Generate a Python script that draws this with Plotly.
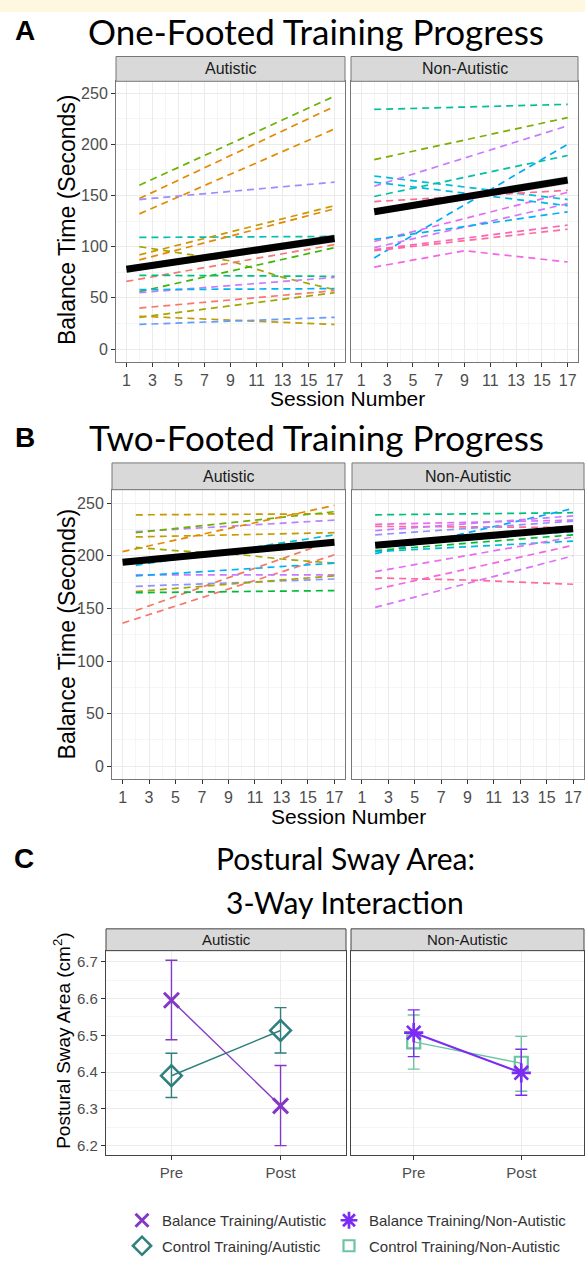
import plotly.graph_objects as go

W, H = 585, 1262


def px(x):
    return x / W


def py(y):
    return 1 - y / H


# ---------------- DATA ----------------
SESSION_TICKS = [1, 3, 5, 7, 9, 11, 13, 15, 17]
BAL_TICKS = [0, 50, 100, 150, 200, 250]
SWAY_TICKS = [6.2, 6.3, 6.4, 6.5, 6.6, 6.7]
TIME_LABELS = ["Pre", "Post"]
TIME_POS = [1, 2]
GROUPS = ["Autistic", "Non-Autistic"]

# Panel A: one-footed, autistic participants (session, balance time)
A_AUT_SESS = [[2, 17], [2, 17], [2, 17], [2, 17], [2, 17], [2, 9, 13, 17], [2, 17], [2, 17],
              [1, 17], [2, 17], [2, 17], [2, 17], [2, 17], [2, 17], [2, 17], [2, 17], [2, 17]]
A_AUT_VALS = [[160, 247], [147, 237], [132, 215], [146, 163], [109, 110], [100, 86, 70, 58],
              [92, 140], [87, 137], [66, 102], [56, 99], [72, 71], [55, 70], [58, 59],
              [40, 57], [31, 55], [32, 24], [24, 31]]
A_AUT_MEAN_SESS = [1, 17]
A_AUT_MEAN = [78, 108]
A_AUT_SE = [3, 4]

# Panel A: one-footed, non-autistic participants
A_NON_SESS = [[2, 17], [2, 17], [2, 17], [2, 17], [2, 17], [2, 17], [2, 17], [2, 17],
              [2, 17], [2, 17], [2, 17], [2, 17], [2, 9, 17], [2, 17]]
A_NON_VALS = [[234, 239], [185, 226], [169, 146], [159, 218], [89, 200], [149, 189],
              [144, 155], [105, 153], [99, 142], [107, 134], [97, 121], [96, 117],
              [80, 96, 85], [163, 140]]
A_NON_MEAN_SESS = [2, 17]
A_NON_MEAN = [134, 165]
A_NON_SE = [3, 4]

# Panel B: two-footed, autistic participants
B_AUT_SESS = [[2, 17], [2, 17], [2, 17], [2, 17], [1, 17], [2, 5, 10, 13, 17], [2, 17],
              [1, 17], [2, 17], [2, 17], [2, 17], [2, 17], [2, 17], [2, 17]]
B_AUT_VALS = [[239, 240], [223, 234], [222, 242], [218, 222], [204, 248],
              [208, 205, 201, 197, 193], [191, 220], [136, 201], [148, 215], [182, 182],
              [181, 193], [171, 178], [166, 181], [165, 167]]
B_AUT_MEAN_SESS = [1, 17]
B_AUT_MEAN = [194, 213]
B_AUT_SE = [3, 3]

# Panel B: two-footed, non-autistic participants
B_NON_SESS = [[2, 17], [2, 17], [2, 17], [2, 17], [2, 17], [2, 17], [2, 17], [2, 17],
              [2, 17], [2, 17], [2, 17], [2, 17], [2, 9, 17]]
B_NON_VALS = [[239, 241], [202, 245], [230, 234], [228, 227], [224, 238], [220, 233],
              [211, 223], [205, 220], [204, 214], [185, 218], [168, 210], [151, 200],
              [179, 177, 173]]
B_NON_MEAN_SESS = [2, 17]
B_NON_MEAN = [210, 226]
B_NON_SE = [2, 3]

# Panel C: postural sway area (mean, lower, upper)
BAL_AUT = [6.595, 6.308]
BAL_AUT_LO = [6.488, 6.200]
BAL_AUT_HI = [6.704, 6.418]
CTL_AUT = [6.390, 6.513]
CTL_AUT_LO = [6.331, 6.452]
CTL_AUT_HI = [6.451, 6.575]
BAL_NON = [6.507, 6.398]
BAL_NON_LO = [6.442, 6.337]
BAL_NON_HI = [6.569, 6.462]
CTL_NON = [6.482, 6.424]
CTL_NON_LO = [6.408, 6.348]
CTL_NON_HI = [6.555, 6.497]

# ---------------- STYLES ----------------
A_AUT_COLORS = ["#6BB100", "#E58700", "#E08B00", "#9C8CFF", "#00C0AF", "#A3A500",
                "#C99800", "#E58700", "#F8766D", "#39B600", "#00BF7D", "#C77CFF",
                "#00B4EF", "#F8766D", "#A3A500", "#C49A00", "#619CFF"]
A_NON_COLORS = ["#00BF9C", "#7CAE00", "#00BCD8", "#C77CFF", "#00A9FF", "#00C1A3",
                "#FF6C91", "#E76BF3", "#D575FE", "#00B2F3", "#FF62BC", "#FF6A98",
                "#F564E3", "#00B8E5"]
B_AUT_COLORS = ["#C99800", "#B983FF", "#6BB100", "#C49A00", "#E58700", "#A3A500",
                "#00BCD8", "#F8766D", "#F1795F", "#C77CFF", "#00B0F6", "#8F91FF",
                "#A3A500", "#00BA38"]
B_NON_COLORS = ["#00BF7D", "#00A9FF", "#E76BF3", "#FF6C91", "#C77CFF", "#8F91FF",
                "#00C0AF", "#00BA38", "#00BCD8", "#E76BF3", "#F564E3", "#DB72FB",
                "#FF6A98"]

TICK_FONT = dict(family="Liberation Sans, Arial, sans-serif", size=16, color="#4D4D4D")
AX_FONT = "Liberation Sans, Arial, sans-serif"
TITLE_FONT = "Lato, Open Sans, sans-serif"
DASH = "7px,5px"

fig = go.Figure()


def add_lines(sess, vals, colors, xa, ya):
    for s, v, c in zip(sess, vals, colors):
        fig.add_trace(go.Scatter(x=s, y=v, mode="lines", xaxis=xa, yaxis=ya,
                                 line=dict(color=c, width=1.7, dash=DASH),
                                 showlegend=False, hoverinfo="skip"))


def add_mean(s, m, se, xa, ya):
    lo = [a - b for a, b in zip(m, se)]
    hi = [a + b for a, b in zip(m, se)]
    fig.add_trace(go.Scatter(x=s + s[::-1], y=hi + lo[::-1], fill="toself", mode="lines",
                             line=dict(width=0), fillcolor="rgba(110,110,110,0.28)",
                             xaxis=xa, yaxis=ya, showlegend=False, hoverinfo="skip"))
    fig.add_trace(go.Scatter(x=s, y=m, mode="lines", xaxis=xa, yaxis=ya,
                             line=dict(color="black", width=7),
                             showlegend=False, hoverinfo="skip"))


add_lines(A_AUT_SESS, A_AUT_VALS, A_AUT_COLORS, "x", "y")
add_mean(A_AUT_MEAN_SESS, A_AUT_MEAN, A_AUT_SE, "x", "y")
add_lines(A_NON_SESS, A_NON_VALS, A_NON_COLORS, "x2", "y2")
add_mean(A_NON_MEAN_SESS, A_NON_MEAN, A_NON_SE, "x2", "y2")
add_lines(B_AUT_SESS, B_AUT_VALS, B_AUT_COLORS, "x3", "y3")
add_mean(B_AUT_MEAN_SESS, B_AUT_MEAN, B_AUT_SE, "x3", "y3")
add_lines(B_NON_SESS, B_NON_VALS, B_NON_COLORS, "x4", "y4")
add_mean(B_NON_MEAN_SESS, B_NON_MEAN, B_NON_SE, "x4", "y4")

# Panel C
C_STYLE = {
    "bal_aut": dict(color="#8438C8", symbol="x-thin-open", size=15, lw=1.4, mlw=3),
    "ctl_aut": dict(color="#2E7F7E", symbol="diamond-open", size=16, lw=1.4, mlw=2.5),
    "bal_non": dict(color="#7C2BF5", symbol="asterisk-open", size=16, lw=2.2, mlw=2.7),
    "ctl_non": dict(color="#6CC5A0", symbol="square-open", size=13, lw=1.4, mlw=2.2),
}


def add_sway(mean, lo, hi, st, xa, ya):
    fig.add_trace(go.Scatter(
        x=TIME_POS, y=mean, mode="lines+markers", xaxis=xa, yaxis=ya,
        line=dict(color=st["color"], width=st["lw"]),
        marker=dict(symbol=st["symbol"], size=st["size"], color=st["color"],
                    line=dict(color=st["color"], width=st["mlw"])),
        error_y=dict(type="data", symmetric=False,
                     array=[h - m for h, m in zip(hi, mean)],
                     arrayminus=[m - l for l, m in zip(lo, mean)],
                     color=st["color"], thickness=1.4, width=6),
        showlegend=False, hoverinfo="skip"))


add_sway(CTL_AUT, CTL_AUT_LO, CTL_AUT_HI, C_STYLE["ctl_aut"], "x5", "y5")
add_sway(BAL_AUT, BAL_AUT_LO, BAL_AUT_HI, C_STYLE["bal_aut"], "x5", "y5")
add_sway(CTL_NON, CTL_NON_LO, CTL_NON_HI, C_STYLE["ctl_non"], "x6", "y6")
add_sway(BAL_NON, BAL_NON_LO, BAL_NON_HI, C_STYLE["bal_non"], "x6", "y6")

LEGEND_NAMES = ["Balance Training/Autistic", "Control Training/Autistic",
                "Balance Training/Non-Autistic", "Control Training/Non-Autistic"]
LEGEND_KEYS = ["bal_aut", "ctl_aut", "bal_non", "ctl_non"]
LEGEND_IDS = ["legend", "legend", "legend2", "legend2"]
for name, key, lid in zip(LEGEND_NAMES, LEGEND_KEYS, LEGEND_IDS):
    st = C_STYLE[key]
    fig.add_trace(go.Scatter(x=[None], y=[None], mode="markers", name=name,
                             legendgroup=key, xaxis="x5", yaxis="y5", legend=lid,
                             marker=dict(symbol=st["symbol"], size=st["size"] - 2,
                                         color=st["color"],
                                         line=dict(color=st["color"], width=st["mlw"]))))

# ---------------- AXES ----------------
GRID = "#EBEBEB"
MINOR = "#F5F5F5"


def sess_x(dom, rng, anchor):
    return dict(domain=dom, range=rng, anchor=anchor, tickmode="array",
                tickvals=SESSION_TICKS, ticks="outside", ticklen=4, tickcolor="#333",
                showgrid=True, gridcolor=GRID, gridwidth=1,
                minor=dict(tickmode="array", tickvals=[2, 4, 6, 8, 10, 12, 14, 16],
                           showgrid=True, gridcolor=MINOR, gridwidth=1, ticks=""),
                showline=True, mirror=True, linecolor="#777", linewidth=1,
                zeroline=False, tickfont=TICK_FONT, fixedrange=True)


def bal_y(dom, rng, anchor, labels):
    return dict(domain=dom, range=rng, anchor=anchor, tickmode="array",
                tickvals=BAL_TICKS, ticks="outside" if labels else "", ticklen=4,
                tickcolor="#333", showticklabels=labels,
                showgrid=True, gridcolor=GRID, gridwidth=1,
                minor=dict(tickmode="array", tickvals=[25, 75, 125, 175, 225],
                           showgrid=True, gridcolor=MINOR, gridwidth=1, ticks=""),
                showline=True, mirror=True, linecolor="#777", linewidth=1,
                zeroline=False, tickfont=TICK_FONT, fixedrange=True)


def time_x(dom, rng, anchor):
    return dict(domain=dom, range=rng, anchor=anchor, tickmode="array",
                tickvals=TIME_POS, ticktext=TIME_LABELS, ticks="outside", ticklen=4,
                tickcolor="#333", showgrid=True, gridcolor=GRID,
                showline=True, mirror=True, linecolor="#444", linewidth=1.2,
                zeroline=False, tickfont=dict(TICK_FONT, size=15), fixedrange=True)


def sway_y(dom, anchor, labels):
    return dict(domain=dom, range=[6.175, 6.73], anchor=anchor, tickmode="array",
                tickvals=SWAY_TICKS, ticks="outside" if labels else "", ticklen=4,
                tickcolor="#333", showticklabels=labels, tickformat=".1f",
                showgrid=True, gridcolor=GRID,
                minor=dict(tickmode="array", tickvals=[6.25, 6.35, 6.45, 6.55, 6.65],
                           showgrid=True, gridcolor=MINOR, ticks=""),
                showline=True, mirror=True, linecolor="#444", linewidth=1.2,
                zeroline=False, tickfont=dict(TICK_FONT, size=15), fixedrange=True)


A_Y = [py(365), py(82)]
B_Y = [py(786), py(494)]
C_Y = [py(1165), py(959)]

fig.update_layout(
    xaxis=sess_x([px(116), px(345)], [0.2, 17.8], "y"),
    yaxis=bal_y(A_Y, [-12.5, 261.5], "x", True),
    xaxis2=sess_x([px(351), px(578)], [0.2, 17.8], "y2"),
    yaxis2=bal_y(A_Y, [-12.5, 261.5], "x2", False),
    xaxis3=sess_x([px(112), px(345)], [0.2, 17.8], "y3"),
    yaxis3=bal_y(B_Y, [-12.3, 262.9], "x3", True),
    xaxis4=sess_x([px(352), px(584)], [0.245, 17.83], "y4"),
    yaxis4=bal_y(B_Y, [-12.3, 262.9], "x4", False),
    xaxis5=time_x([px(106), px(346)], [0.4, 2.6], "y5"),
    yaxis5=sway_y(C_Y, "x5", True),
    xaxis6=time_x([px(351), px(584)], [0.417, 2.583], "y6"),
    yaxis6=sway_y(C_Y, "x6", False),
)

# ---------------- STRIPS, TITLES ----------------
shapes = [dict(type="rect", xref="paper", yref="paper", x0=0, x1=1, y0=py(12), y1=1,
               fillcolor="#FFF8E1", line=dict(width=0), layer="below")]
annotations = []


def strip(x0, x1, y0, y1, text, size, lc):
    shapes.append(dict(type="rect", xref="paper", yref="paper", x0=px(x0), x1=px(x1),
                       y0=py(y1), y1=py(y0), fillcolor="#D9D9D9",
                       line=dict(color=lc, width=1)))
    annotations.append(dict(text=text, xref="paper", yref="paper", x=px((x0 + x1) / 2),
                            y=py((y0 + y1) / 2), showarrow=False,
                            font=dict(family=AX_FONT, size=size, color="#1A1A1A"),
                            xanchor="center", yanchor="middle"))


strip(116, 345, 57, 82, GROUPS[0], 16, "#777")
strip(351, 578, 57, 82, GROUPS[1], 16, "#777")
strip(112, 345, 467, 494, GROUPS[0], 16, "#777")
strip(352, 584, 467, 494, GROUPS[1], 16, "#777")
strip(106, 346, 937, 959, GROUPS[0], 15, "#444")
strip(351, 584, 937, 959, GROUPS[1], 15, "#444")


def text(t, x, y, size, family, color="black", angle=0, bold=False, xanchor="center"):
    annotations.append(dict(text=f"<b>{t}</b>" if bold else t, xref="paper", yref="paper",
                            x=px(x), y=py(y), showarrow=False, textangle=angle,
                            font=dict(family=family, size=size, color=color),
                            xanchor=xanchor, yanchor="middle"))


text("A", 25, 31, 28, AX_FONT, bold=True)
text("One-Footed Training Progress", 316, 31, 35, TITLE_FONT)
text("B", 25, 441, 28, AX_FONT, bold=True)
text("Two-Footed Training Progress", 316, 441, 35, TITLE_FONT)
text("C", 24, 866, 28, AX_FONT, bold=True)
text("Postural Sway Area:", 345, 866, 30, TITLE_FONT)
text("3-Way Interaction", 345, 910, 30, TITLE_FONT)

text("Balance Time (Seconds)", 67, 222, 23, AX_FONT, angle=-90)
text("Balance Time (Seconds)", 67, 640, 23, AX_FONT, angle=-90)
text("Session Number", 347, 402, 21, AX_FONT)
text("Session Number", 348, 824, 21, AX_FONT)
text("Postural Sway Area (cm<sup>2</sup>)", 62, 1050, 19, AX_FONT, angle=-90)

LEG_COMMON = dict(orientation="v", yanchor="top", xanchor="left", itemwidth=30,
                  font=dict(family=AX_FONT, size=15, color="#333"),
                  bgcolor="rgba(0,0,0,0)", tracegroupgap=3)

fig.update_layout(
    width=W, height=H, margin=dict(l=0, r=0, t=0, b=0),
    paper_bgcolor="white", plot_bgcolor="white",
    shapes=shapes, annotations=annotations,
    showlegend=True,
    legend=dict(LEG_COMMON, x=px(122), y=py(1215)),
    legend2=dict(LEG_COMMON, x=px(329), y=py(1215)),
)

fig.write_html("out.html", config={"displayModeBar": False},
               post_script="document.body.style.margin='0px';document.body.style.overflow='hidden';")
